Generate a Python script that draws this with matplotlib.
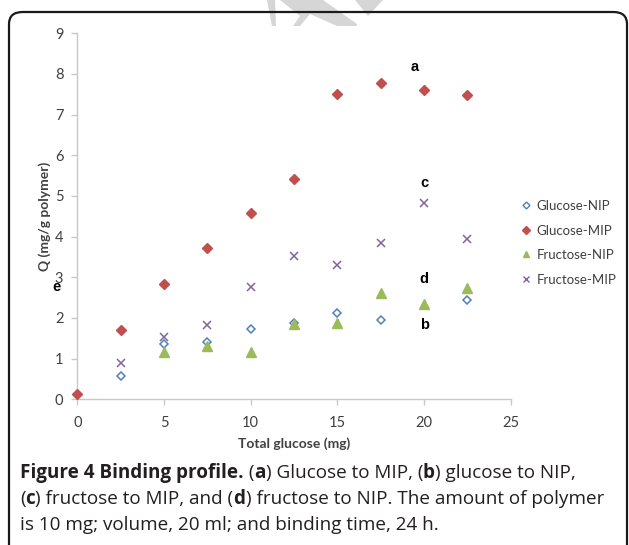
import matplotlib
matplotlib.use("Agg")
import matplotlib.pyplot as plt
from matplotlib.patches import FancyBboxPatch, Polygon
from matplotlib.lines import Line2D

# ── data ───────────────────────────────────────────────
x_gmip = [0, 2.5, 5, 7.5, 10, 12.5, 15, 17.5, 20, 22.5]
y_gmip = [0.12, 1.70, 2.84, 3.73, 4.59, 5.42, 7.50, 7.77, 7.61, 7.48]

x_fmip = [2.5, 5, 7.5, 10, 12.5, 15, 17.5, 20, 22.5]
y_fmip = [0.89, 1.52, 1.83, 2.75, 3.52, 3.30, 3.85, 4.82, 3.93]

x_gnip = [2.5, 5, 7.5, 10, 12.5, 15, 17.5, 22.5]
y_gnip = [0.58, 1.35, 1.42, 1.74, 1.88, 2.11, 1.95, 2.43]

x_fnip = [5, 7.5, 10, 12.5, 15, 17.5, 20, 22.5]
y_fnip = [1.16, 1.31, 1.16, 1.86, 1.87, 2.61, 2.34, 2.74]

letters = ["a", "c", "d", "b", "e"]
letter_x = [19.48, 20.0, 20.0, 20.0, -1.19]
letter_y = [8.18, 5.31, 2.96, 1.83, 2.75]

x_ticks = [0, 5, 10, 15, 20, 25]
y_ticks = list(range(10))

C_BLUE = "#4f81bd"
C_RED = "#c0504d"
C_GREEN = "#9bbb59"
C_PURPLE = "#8064a2"
AXIS_GRAY = "#c8c8c8"
TEXT_GRAY = "#404040"

CHART_FONT = ["Lato", "DejaVu Sans"]
CAP_FONT = ["Open Sans", "DejaVu Sans"]

W, H = 629, 545
fig = plt.figure(figsize=(W / 100, H / 100), dpi=100)


def fx(px):
    return px / W


def fy(py):
    return 1 - py / H


# watermark pieces (light gray, behind everything)
wm = [
    [(267, 0), (275, 0), (276, 26), (272, 26)],
    [(280, 0), (323, 0), (357, 24), (357, 26), (337, 26), (310, 14),
     (300, 26), (293, 26), (300, 16)],
    [(355, 0), (383, 0), (368, 16)],
]
for pts in wm:
    fig.patches.append(Polygon([(fx(a), fy(b)) for a, b in pts], closed=True,
                               transform=fig.transFigure, facecolor="#d6d6d6",
                               edgecolor="none", zorder=0))

# rounded frame, open at the bottom
frame = FancyBboxPatch((fx(9), fy(600)), fx(627) - fx(9), fy(12) - fy(600),
                       boxstyle="round,pad=0,rounding_size=0.022",
                       transform=fig.transFigure, facecolor="none",
                       edgecolor="#1a1a1a", linewidth=1.6, zorder=1,
                       clip_on=False)
fig.patches.append(frame)

ax = fig.add_axes([fx(77.3), fy(399.3), fx(510.8) - fx(77.3), fy(33.3) - fy(399.3)])
ax.set_xlim(0, 25)
ax.set_ylim(0, 9)
ax.patch.set_alpha(0)
for s in ["top", "right"]:
    ax.spines[s].set_visible(False)
for s in ["left", "bottom"]:
    ax.spines[s].set_color(AXIS_GRAY)
    ax.spines[s].set_linewidth(1.0)
ax.set_xticks(x_ticks)
ax.set_yticks(y_ticks)
ax.tick_params(direction="out", length=4, width=1, color=AXIS_GRAY,
               labelcolor=TEXT_GRAY, labelsize=10.5)
ax.tick_params(axis="x", pad=8)
ax.tick_params(axis="y", pad=6)
for lab in ax.get_xticklabels() + ax.get_yticklabels():
    lab.set_family(CHART_FONT)

ax.plot(x_gnip, y_gnip, linestyle="none", marker="D", markersize=4.2,
        markerfacecolor="white", markeredgecolor=C_BLUE, markeredgewidth=1.1,
        clip_on=False, zorder=3)
ax.plot(x_gmip, y_gmip, linestyle="none", marker="D", markersize=5,
        color=C_RED, clip_on=False, zorder=3)
ax.plot(x_fnip, y_fnip, linestyle="none", marker="^", markersize=6.5,
        color=C_GREEN, clip_on=False, zorder=4)
ax.plot(x_fmip, y_fmip, linestyle="none", marker="x", markersize=5.5,
        markeredgewidth=1.1, color=C_PURPLE, clip_on=False, zorder=3)

for t, xx, yy in zip(letters, letter_x, letter_y):
    ax.text(xx, yy, t, ha="center", va="center", fontsize=10.5,
            fontweight="bold", family=["Liberation Sans", "DejaVu Sans"],
            color="black", clip_on=False, zorder=5)

ax.set_xlabel("Total glucose (mg)", fontsize=10, fontweight="bold",
              color=TEXT_GRAY, family=CHART_FONT, labelpad=5)
ax.set_ylabel("Q (mg/g polymer)", fontsize=10, fontweight="bold",
              color=TEXT_GRAY, family=CHART_FONT, labelpad=3)

handles = [
    Line2D([], [], linestyle="none", marker="D", markersize=3.5,
           markerfacecolor="white", markeredgecolor=C_BLUE, markeredgewidth=1),
    Line2D([], [], linestyle="none", marker="D", markersize=4, color=C_RED),
    Line2D([], [], linestyle="none", marker="^", markersize=5, color=C_GREEN),
    Line2D([], [], linestyle="none", marker="x", markersize=5,
           markeredgewidth=1, color=C_PURPLE),
]
names = ["Glucose-NIP", "Glucose-MIP", "Fructose-NIP", "Fructose-MIP"]
leg = fig.legend(handles, names, loc="upper left",
                 bbox_to_anchor=(fx(521), fy(200)), frameon=False,
                 handlelength=0.8, handletextpad=0.4, labelspacing=0.95,
                 borderaxespad=0, borderpad=0,
                 prop={"family": CHART_FONT, "size": 9.5})
for t in leg.get_texts():
    t.set_color(TEXT_GRAY)

# caption: runs of normal / bold text laid out one after another
caption = [
    [("Figure 4 Binding profile.", True), (" (", False), ("a", True),
     (") Glucose to MIP, (", False), ("b", True), (") glucose to NIP,", False)],
    [("(", False), ("c", True), (") fructose to MIP, and (", False), ("d", True),
     (") fructose to NIP. The amount of polymer", False)],
    [("is 10 mg; volume, 20 ml; and binding time, 24 h.", False)],
]
baselines = [478, 504, 530]

fig.canvas.draw()
renderer = fig.canvas.get_renderer()


def run_width(runs, size):
    total = 0
    for txt, bold in runs:
        t = fig.text(0, 0, txt, fontsize=size,
                     fontweight="bold" if bold else "normal", family=CAP_FONT)
        total += t.get_window_extent(renderer=renderer).width
        t.remove()
    return total


# fit the second (longest) caption line to the width seen in the figure
cap_size = 14 * 585 / run_width(caption[1], 14)

for runs, base in zip(caption, baselines):
    xpos = 20
    for txt, bold in runs:
        t = fig.text(fx(xpos), fy(base), txt, ha="left", va="baseline",
                     fontsize=cap_size, fontweight="bold" if bold else "normal",
                     family=CAP_FONT, color="#231f20")
        xpos += t.get_window_extent(renderer=renderer).width

fig.savefig("out.png", dpi=100)
